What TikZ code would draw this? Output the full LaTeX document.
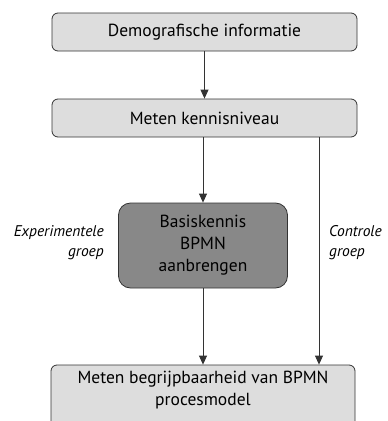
\documentclass[tikz,border=0pt]{standalone}
\usepackage{fontspec}
\setmainfont{PT Sans}
\usetikzlibrary{arrows.meta}
\definecolor{boxlight}{HTML}{DDDDDD}
\definecolor{boxdark}{HTML}{888888}
\definecolor{boxline}{HTML}{333333}
\tikzset{
  stap/.style={draw=boxline,fill=boxlight,rounded corners=6pt,line width=0.8pt,
    align=center,font=\fontsize{17.5}{22}\selectfont,inner sep=2pt},
  pijl/.style={-{Triangle[length=9pt,width=8pt]},color=boxline,line width=0.8pt},
  groep/.style={font=\fontsize{15.5}{20}\selectfont\itshape,inner sep=0pt}
}
\begin{document}
\begin{tikzpicture}[x=1pt,y=-1pt]
\useasboundingbox (0,0) rectangle (388,421);
\clip (0,0) rectangle (388,421);

\node[stap,minimum width=305pt,minimum height=38pt] (demo) at (204.5,32) {Demografische informatie};
\node[stap,minimum width=305pt,minimum height=38pt] (kennis) at (204.5,118) {Meten kennisniveau};
\node[stap,fill=boxdark,minimum width=169pt,minimum height=85pt,rounded corners=12pt] (basis) at (203,245.5) {Basiskennis\\BPMN\\aanbrengen};
\node[stap,minimum width=304pt,minimum height=72pt,text depth=26pt] (begrip) at (203,401) {Meten begrijpbaarheid van BPMN\\procesmodel};

\node[groep,anchor=east,align=right] (exp) at (104,243) {Experimentele\\groep};
\node[groep,anchor=west,align=left] (ctrl) at (329,243) {Controle\\groep};

\coordinate (rechts) at (319,0);

\draw[pijl] (demo) to (kennis);
\draw[pijl] (kennis.south -| basis) to (basis);
\draw[pijl] (basis) to (basis |- begrip.north);
\draw[pijl] (kennis.south -| rechts) to (begrip.north -| rechts);
\end{tikzpicture}
\end{document}
